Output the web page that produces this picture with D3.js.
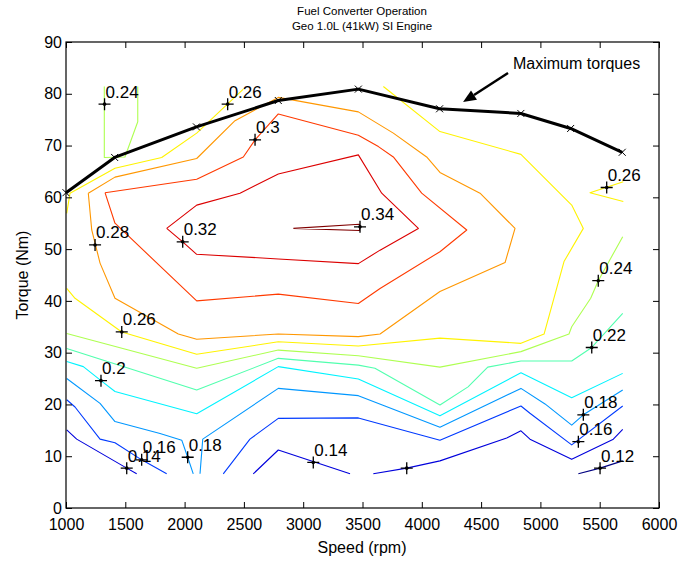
<!DOCTYPE html>
<html><head><meta charset="utf-8">
<script src="https://cdn.jsdelivr.net/npm/d3@7"></script>
<style>
body{margin:0;background:#fff}
svg{display:block}
text{font-family:"Liberation Sans",Arial,Helvetica,sans-serif;fill:#000}
</style>
</head><body>
<svg id="chart" width="698" height="561"></svg>
<script>
// ---------------- data ----------------
const titleLines = ["Fuel Converter Operation", "Geo 1.0L (41kW) SI Engine"];
const xLabel = "Speed (rpm)";
const yLabel = "Torque (Nm)";
const xTicks = [1000,1500,2000,2500,3000,3500,4000,4500,5000,5500,6000];
const yTicks = [0,10,20,30,40,50,60,70,80,90];
const levels = [0.12,0.14,0.16,0.18,0.20,0.22,0.24,0.26,0.28,0.30,0.32,0.34];

// maximum torque curve
const maxTorqueSpeed = [1000,1410,2100,2790,3465,4150,4835,5255,5690];
const maxTorque      = [60.9,67.7,73.6,78.7,80.9,77.1,76.2,73.3,68.7];

// efficiency contour polylines: [speed rpm, torque Nm]
const c012  = [[5320,6.6],[5503,7.7],[5694,9.1]];
const c014a = [[1006,15.1],[1090,13.3],[1512,7.7],[1596,6.6]];
const c014b = [[2579,6.6],[2790,11.2],[3395,6.6]];
const c014c = [[3591,6.6],[3873,7.7],[4153,9.1],[4716,13.5],[4836,14.9],[4912,13.3],[5264,9.4],[5615,13.3],[5694,15.2]];
const c016a = [[1006,20.9],[1076,19.5],[1287,13.3],[1413,12.6],[1638,9.3],[1849,6.6]];
const c016b = [[2326,6.6],[2551,13.3],[2790,17.3],[3465,17.4],[4153,13.1],[4836,19.7],[4912,18.3],[5264,12.2],[5694,19.7]];
const c018a = [[1006,25.0],[1287,20.2],[1413,16.7],[1793,14.4],[1976,13.1],[2026,9.8],[2073,6.6]];
const c018b = [[2130,6.6],[2153,13.3],[2790,23.1],[3465,21.7],[4153,15.6],[4836,23.1],[5039,20.1],[5264,16.0],[5362,18.0],[5694,22.8]];
const c020  = [[1006,28.3],[1146,27.3],[1295,24.6],[1413,22.5],[2102,18.2],[2790,27.3],[3465,24.9],[4153,17.8],[4836,26.1],[5264,21.3],[5694,26.0]];
const c022  = [[1006,30.8],[2102,22.8],[2790,28.9],[3465,27.6],[3605,27.0],[4153,19.9],[4390,23.4],[4556,27.2],[4836,28.4],[5264,28.4],[5433,31.0],[5694,37.6]];
const c024a = [[1006,33.7],[2102,27.0],[2790,30.5],[3465,29.4],[4153,27.2],[4836,30.2],[5241,33.6],[5264,35.0],[5424,40.5],[5488,43.9],[5694,52.4]];
const c024b = [[1323,81.4],[1323,67.7],[1497,67.8],[1605,74.6],[1605,81.4]];
const c026a = [[1006,56.9],[1034,60.8],[1413,65.6],[1807,67.7],[2102,72.4],[2495,80.9]];
const c026b = [[3676,81.4],[4153,72.7],[4836,68.3],[5264,58.5],[5362,54.0],[5199,47.6],[5031,33.6],[4836,31.8],[4153,32.8],[3465,31.3],[2790,32.1],[2102,29.7],[1470,34.0],[1076,40.5],[1006,42.4]];
const c026c = [[5699,63.0],[5418,60.9],[5699,59.2]];
const c028  = [[1188,60.8],[1217,53.7],[1287,47.3],[1413,40.5],[1947,33.6],[2102,32.6],[2790,33.6],[3465,33.1],[3648,33.6],[4153,41.8],[4702,47.4],[4786,54.0],[4491,60.8],[4153,64.8],[4041,67.8],[3760,72.4],[3465,76.5],[2790,79.3],[2425,74.8],[2102,67.5],[1413,63.9],[1188,60.8]];
const c030  = [[1329,60.9],[1413,55.0],[2102,40.0],[2790,41.3],[3465,39.5],[3648,42.4],[4153,49.5],[4379,53.7],[3999,60.8],[3760,67.8],[3634,69.8],[3465,72.0],[2790,76.1],[2594,71.1],[2495,67.8],[2102,63.5],[1329,60.9]];
const c032  = [[1849,54.0],[2102,58.5],[2467,60.8],[2790,64.5],[3465,68.2],[3662,60.8],[3971,54.0],[3648,49.8],[3465,47.2],[2790,48.1],[2102,49.0],[1984,51.4],[1849,54.0]];
const c034  = [[2917,54.0],[3475,54.8],[3475,53.6],[2917,54.0]];

// contour labels: text, speed, torque of the "+" marker
const labelText   = ["0.24","0.26","0.3","0.28","0.32","0.34","0.26","0.24","0.22","0.18","0.16","0.12","0.14","0.2","0.26","0.18","0.16","0.14",""];
const labelSpeed  = [1325,2363,2594,1245,1984,3479,5559,5488,5433,5362,5320,5503,3085,1295,1470,2026,1638,1512,3873];
const labelTorque = [78.0,78.0,71.1,50.8,51.4,54.3,61.9,43.9,31.0,18.0,12.8,7.7,8.8,24.6,34.0,9.8,9.3,7.7,7.7];

// annotation
const annotText = "Maximum torques";
const annotTextPos = [4769, 84.8];
const arrowFrom = [4727, 84.0];
const arrowTo   = [4348, 78.4];

// ---------------- drawing ----------------
const contours = [
  {level:0.12, pts:c012},{level:0.14, pts:c014a},{level:0.14, pts:c014b},{level:0.14, pts:c014c},
  {level:0.16, pts:c016a},{level:0.16, pts:c016b},{level:0.18, pts:c018a},{level:0.18, pts:c018b},
  {level:0.20, pts:c020},{level:0.22, pts:c022},{level:0.24, pts:c024a},{level:0.24, pts:c024b},
  {level:0.26, pts:c026a},{level:0.26, pts:c026b},{level:0.26, pts:c026c},{level:0.28, pts:c028},
  {level:0.30, pts:c030},{level:0.32, pts:c032},{level:0.34, pts:c034}
];

const svg = d3.select("#chart");
const x = d3.scaleLinear().domain([1000,6000]).range([66,659]);
const y = d3.scaleLinear().domain([0,90]).range([508,42]);
const tScale = d3.scaleLinear().domain([levels[0], levels[levels.length-1]]).range([0,1]);
function jet(t){
  const c = v => Math.round(255*Math.max(0,Math.min(1,v)));
  return `rgb(${c(1.5-Math.abs(4*t-3))},${c(1.5-Math.abs(4*t-2))},${c(1.5-Math.abs(4*t-1))})`;
}

const line = d3.line().x(d=>x(d[0])).y(d=>y(d[1]));

// contours
svg.append("g").selectAll("path").data(contours).join("path")
  .attr("d", d=>line(d.pts))
  .attr("fill","none")
  .attr("stroke", d=>jet(tScale(d.level)))
  .attr("stroke-width",1.1)
  .attr("stroke-linejoin","round");

// max torque line
const mt = maxTorqueSpeed.map((s,i)=>[s,maxTorque[i]]);
svg.append("path").attr("d", line(mt)).attr("fill","none")
  .attr("stroke","#000").attr("stroke-width",3).attr("stroke-linejoin","round");
svg.append("g").selectAll("path").data(mt).join("path")
  .attr("d", d=>{const cx=x(d[0]),cy=y(d[1]),r=3.5;return `M${cx-r},${cy-r}L${cx+r},${cy+r}M${cx-r},${cy+r}L${cx+r},${cy-r}`;})
  .attr("stroke","#000").attr("stroke-width",1);

// contour labels
const lab = labelText.map((t,i)=>({t, s:labelSpeed[i], q:labelTorque[i]}));
const lg = svg.append("g");
lg.selectAll("path").data(lab).join("path")
  .attr("d", d=>{const cx=x(d.s),cy=y(d.q),r=6;return `M${cx-r},${cy}L${cx+r},${cy}M${cx},${cy-r}L${cx},${cy+r}`;})
  .attr("stroke","#000").attr("stroke-width",1.3);
lg.selectAll("circle").data(lab).join("circle")
  .attr("cx",d=>x(d.s)).attr("cy",d=>y(d.q)).attr("r",1.8).attr("fill","#000");
lg.selectAll("text").data(lab.filter(d=>d.t)).join("text")
  .attr("x",d=>x(d.s)+1).attr("y",d=>y(d.q)-6.5)
  .attr("font-size",17).text(d=>d.t);

// axes (ticks inward, MATLAB box)
const xb = d3.axisBottom(x).tickValues(xTicks).tickFormat(d3.format("d")).tickSizeInner(-6).tickSizeOuter(0).tickPadding(10.5);
const xt = d3.axisTop(x).tickValues(xTicks).tickFormat("").tickSizeInner(-6).tickSizeOuter(0);
const yl = d3.axisLeft(y).tickValues(yTicks).tickFormat(d3.format("d")).tickSizeInner(-6).tickSizeOuter(0).tickPadding(4);
const yr = d3.axisRight(y).tickValues(yTicks).tickFormat("").tickSizeInner(-6).tickSizeOuter(0);
function styleAxis(g){
  g.select(".domain").remove();
  g.selectAll(".tick line").attr("stroke","#000");
  g.selectAll(".tick text").attr("font-size",16).attr("fill","#000")
    .attr("font-family","'Liberation Sans',Arial,Helvetica,sans-serif");
}
svg.append("g").attr("transform","translate(0,508)").call(xb).call(styleAxis);
svg.append("g").attr("transform","translate(0,42)").call(xt).call(styleAxis);
svg.append("g").attr("transform","translate(66,0)").call(yl).call(styleAxis);
svg.append("g").attr("transform","translate(659,0)").call(yr).call(styleAxis);
svg.append("rect").attr("x",66).attr("y",42).attr("width",593).attr("height",466)
  .attr("fill","none").attr("stroke","#000").attr("stroke-width",1.2);

// annotation arrow
const ax1=x(arrowFrom[0]), ay1=y(arrowFrom[1]), ax2=x(arrowTo[0]), ay2=y(arrowTo[1]);
const ang=Math.atan2(ay2-ay1, ax2-ax1), hl=13, hw=5.5;
const bx=ax2-hl*Math.cos(ang), by=ay2-hl*Math.sin(ang);
svg.append("line").attr("x1",ax1).attr("y1",ay1).attr("x2",bx).attr("y2",by)
  .attr("stroke","#000").attr("stroke-width",2.5);
svg.append("path")
  .attr("d",`M${ax2},${ay2}L${bx+hw*Math.sin(ang)},${by-hw*Math.cos(ang)}L${bx-hw*Math.sin(ang)},${by+hw*Math.cos(ang)}Z`)
  .attr("fill","#000");
svg.append("text").attr("x",x(annotTextPos[0])).attr("y",y(annotTextPos[1]))
  .attr("font-size",16).text(annotText);

// titles
svg.append("g").selectAll("text").data(titleLines).join("text")
  .attr("x",362).attr("y",(d,i)=>15+i*15).attr("text-anchor","middle")
  .attr("font-size",11.5).text(d=>d);
svg.append("text").attr("x",362).attr("y",553).attr("text-anchor","middle")
  .attr("font-size",16).text(xLabel);
svg.append("text").attr("transform","translate(28,275) rotate(-90)").attr("text-anchor","middle")
  .attr("font-size",16).text(yLabel);
</script>
</body></html>
